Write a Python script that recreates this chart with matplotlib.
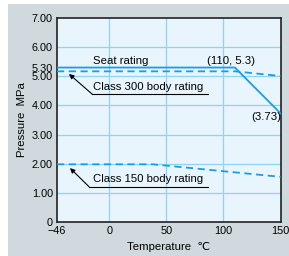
import matplotlib.pyplot as plt
from matplotlib.patches import Rectangle

# data
seat_t = [-46, 110, 150]
seat_p = [5.30, 5.30, 3.73]
c300_t = [-46, 110, 150]
c300_p = [5.17, 5.17, 5.01]
c150_t = [-46, 38, 150]
c150_p = [1.98, 1.98, 1.55]

xticks = [-46, 0, 50, 100, 150]
yticks = [0, 1.0, 2.0, 3.0, 4.0, 5.0, 5.3, 6.0, 7.0]
ylabels = ["0", "1.00", "2.00", "3.00", "4.00", "5.00", "5.30", "6.00", "7.00"]

blue = "#1a9ee0"
grid = "#8fd4f2"
bg = "#cfd9de"
fam = ["Liberation Sans", "DejaVu Sans"]

plt.rcParams['font.family'] = fam
plt.rcParams['font.size'] = 8

fig = plt.figure(figsize=(2.89, 2.56), dpi=100)
fig.patch.set_facecolor("white")
fig.patches.append(Rectangle((8/289, 0), 1, 1 - 4/256, transform=fig.transFigure,
                             facecolor=bg, edgecolor="none", zorder=-10))

ax = fig.add_axes([57/289, 34/256, 223.5/289, 204/256])
ax.set_facecolor("#e9f5fc")
ax.set_xlim(-46, 150)
ax.set_ylim(0, 7)

for t in [0, 50, 100]:
    ax.axvline(t, color=grid, lw=0.9, zorder=1)
for p in [1, 2, 3, 4, 5, 6]:
    ax.axhline(p, color=grid, lw=0.9, zorder=1)

ax.plot(seat_t, seat_p, color=blue, lw=1.3, zorder=3)
ax.plot(c300_t, c300_p, color=blue, lw=1.3, ls=(0, (4, 2.5)), zorder=3)
ax.plot(c150_t, c150_p, color=blue, lw=1.3, ls=(0, (4, 2.5)), zorder=3)

ax.set_xticks(xticks)
ax.set_xticklabels([str(t).replace("-", "\u2212") for t in xticks])
ax.set_yticks(yticks)
ax.set_yticklabels(ylabels)
ax.tick_params(length=0, pad=3, labelsize=7.8)
for s in ax.spines.values():
    s.set_linewidth(1.2)
    s.set_color("#222222")

ax.text(-14.4, 5.52, "Seat rating", fontsize=8.2, va="center")
ax.text(85.8, 5.53, "(110, 5.3)", fontsize=8.2, va="center")
ax.text(124.0, 3.59, "(3.73)", fontsize=8.2, va="center")

ax.text(-14.4, 4.62, "Class 300 body rating", fontsize=8.2, va="center")
ax.plot([-15.2, 86.7], [4.39, 4.39], color="black", lw=0.8, zorder=4)
ax.annotate("", xy=(-35.5, 5.08), xytext=(-15.2, 4.39),
            arrowprops=dict(arrowstyle="-|>", color="black", lw=0.8,
                            mutation_scale=7, shrinkA=0, shrinkB=0))

ax.text(-14.4, 1.48, "Class 150 body rating", fontsize=8.2, va="center")
ax.plot([-17.9, 86.7], [1.21, 1.21], color="black", lw=0.8, zorder=4)
ax.annotate("", xy=(-34.6, 1.85), xytext=(-17.9, 1.21),
            arrowprops=dict(arrowstyle="-|>", color="black", lw=0.8,
                            mutation_scale=7, shrinkA=0, shrinkB=0))

ax.set_ylabel("Pressure  MPa", fontsize=8.2, labelpad=3)
ax.set_xlabel("Temperature  ℃", fontsize=8.2, labelpad=4)

fig.savefig("out.png", dpi=100, facecolor=fig.get_facecolor())
